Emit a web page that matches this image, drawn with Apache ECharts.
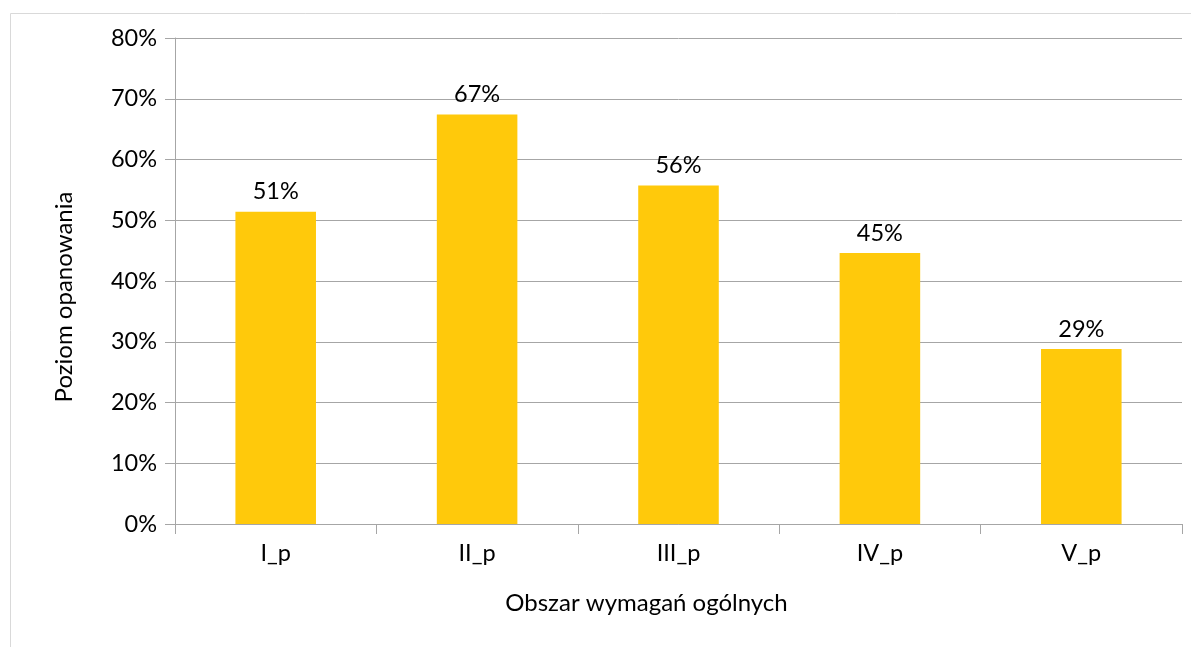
<!DOCTYPE html>
<html>
<head>
<meta charset="utf-8">
<script src="https://cdn.jsdelivr.net/npm/echarts@6/dist/echarts.min.js"></script>
<style>
  html, body { margin: 0; padding: 0; background: #fff; }
  #wykres { width: 1191px; height: 647px; }
</style>
</head>
<body>
<div id="wykres"></div>
<script>
// dane z wykresu
const obszary = ['I_p', 'II_p', 'III_p', 'IV_p', 'V_p'];
const poziom = [51.4, 67.4, 55.7, 44.6, 28.8];
const osY = { min: 0, max: 80, interval: 10 };

const chart = echarts.init(document.getElementById('wykres'));
const font = 'Lato, Carlito, "Liberation Sans", sans-serif';
const rozmiar = 23.5;

const option = {
    animation: false,
    textStyle: { fontFamily: font },
    // ramka wokol wykresu
    graphic: [{
        type: 'rect',
        shape: { x: 10.5, y: 13.5, width: 1220, height: 700 },
        style: { fill: 'none', stroke: '#d9d9d9', lineWidth: 1 },
        silent: true
    }],
    grid: { left: 175, right: 9, top: 38, bottom: 123 },
    xAxis: {
        type: 'category',
        data: obszary,
        name: 'Obszar wymagań ogólnych',
        nameLocation: 'middle',
        nameGap: 67,
        nameTextStyle: {
            fontSize: 24, color: '#000', fontFamily: font,
            padding: [0, 64, 0, 0]
        },
        axisLine: { lineStyle: { color: '#a6a6a6', width: 1 } },
        axisTick: { show: true, length: 10, lineStyle: { color: '#a6a6a6' } },
        axisLabel: { fontSize: rozmiar, color: '#000', margin: 17, fontFamily: font }
    },
    yAxis: {
        type: 'value',
        min: osY.min,
        max: osY.max,
        interval: osY.interval,
        name: 'Poziom opanowania',
        nameLocation: 'middle',
        nameGap: 99,
        nameTextStyle: {
            fontSize: 24, color: '#000', fontFamily: font,
            padding: [0, 32, 0, 0]
        },
        axisLine: { show: true, lineStyle: { color: '#a6a6a6', width: 1 } },
        axisTick: { show: true, length: 10, lineStyle: { color: '#a6a6a6' } },
        splitLine: { lineStyle: { color: '#a6a6a6', width: 1 } },
        axisLabel: {
            fontSize: rozmiar, color: '#000', margin: 18, fontFamily: font,
            formatter: v => v + '%'
        }
    },
    series: [{
        type: 'bar',
        data: poziom,
        barCategoryGap: '60%',
        itemStyle: { color: '#ffc90b' },
        label: {
            show: true,
            position: 'top',
            distance: 8,
            fontSize: rozmiar,
            color: '#000',
            fontFamily: font,
            formatter: p => Math.round(p.value) + '%'
        }
    }]
};

chart.setOption(option);
</script>
</body>
</html>
